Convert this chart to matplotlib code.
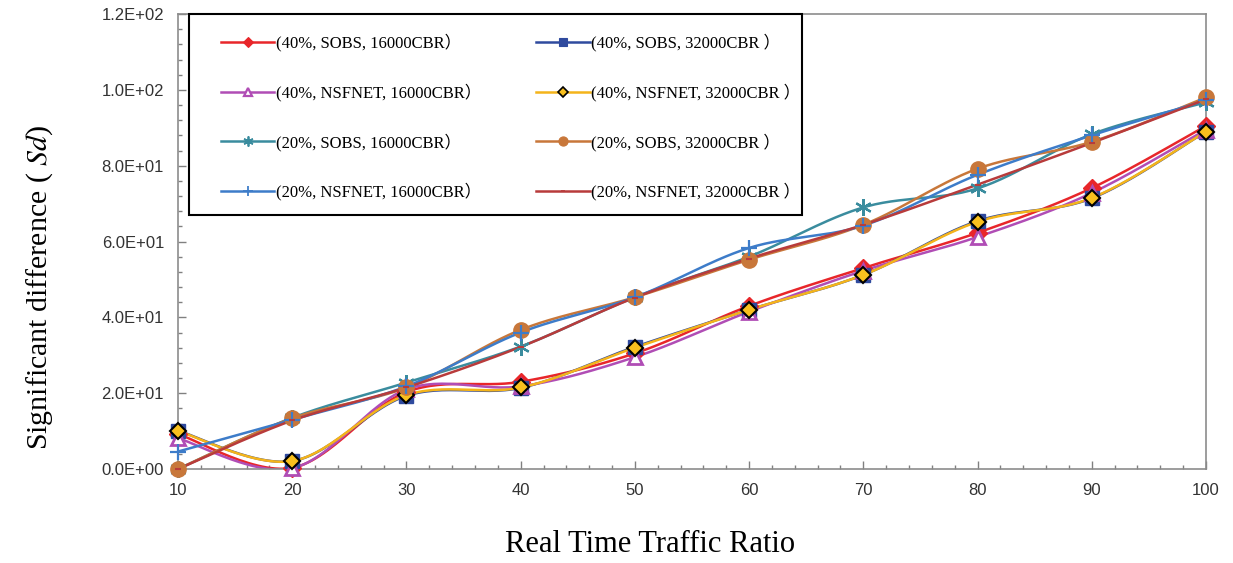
import numpy as np
import matplotlib
matplotlib.use('Agg')
import matplotlib.pyplot as plt
from matplotlib.lines import Line2D
from matplotlib.patches import Rectangle
from matplotlib.ticker import MultipleLocator, FuncFormatter
from matplotlib.font_manager import FontProperties

plt.rcParams['mathtext.fontset'] = 'stix'

# data
ratio = [10, 20, 30, 40, 50, 60, 70, 80, 90, 100]
sobs40_16k = [9.2, 0.3, 20.3, 23.0, 30.5, 43.0, 53.0, 62.3, 74.1, 90.5]
sobs40_32k = [10.1, 2.1, 19.3, 21.4, 32.2, 42.0, 51.2, 65.4, 71.4, 89.0]
nsf40_16k = [8.1, 0.2, 21.0, 21.8, 29.5, 41.5, 52.3, 61.2, 72.8, 89.5]
nsf40_32k = [10.0, 2.1, 19.5, 21.5, 32.0, 42.0, 51.2, 65.2, 71.5, 89.0]
sobs20_16k = [0.0, 13.5, 22.8, 32.3, 45.3, 56.0, 69.0, 74.0, 88.3, 96.7]
sobs20_32k = [0.0, 13.4, 21.5, 36.7, 45.3, 55.2, 64.4, 79.2, 86.3, 98.0]
nsf20_16k = [4.6, 13.0, 21.8, 36.0, 45.3, 58.3, 64.2, 77.6, 88.0, 97.2]
nsf20_32k = [0.0, 12.8, 21.5, 32.2, 45.2, 55.5, 64.4, 75.0, 86.0, 97.5]

labels = ['(40%, SOBS, 16000CBR）', '(40%, SOBS, 32000CBR ）',
          '(40%, NSFNET, 16000CBR）', '(40%, NSFNET, 32000CBR ）',
          '(20%, SOBS, 16000CBR）', '(20%, SOBS, 32000CBR ）',
          '(20%, NSFNET, 16000CBR）', '(20%, NSFNET, 32000CBR ）']


def smooth(x, y, n=30):
    # Excel-style smoothed line (Catmull-Rom through the points)
    p = np.column_stack([x, y]).astype(float)
    p = np.vstack([p[0], p, p[-1]])
    out = []
    t = np.linspace(0, 1, n)[:, None]
    for i in range(1, len(p) - 2):
        a, d = p[i], p[i + 1]
        b = a + (p[i + 1] - p[i - 1]) / 6
        c = d - (p[i + 2] - p[i]) / 6
        seg = (1 - t)**3 * a + 3 * (1 - t)**2 * t * b + 3 * (1 - t) * t**2 * c + t**3 * d
        out.append(seg)
    out = np.vstack(out)
    return out[:, 0], out[:, 1]


styles = [
    dict(color='#E8262A', marker='D', ms=9, mfc='#E8262A', mec='#E8262A', mew=1),
    dict(color='#2F4A9E', marker='s', ms=10, mfc='#2F4A9E', mec='#2F4A9E', mew=1),
    dict(color='#B04DB5', marker='^', ms=10, mfc='white', mec='#B04DB5', mew=2),
    dict(color='#F4B41A', marker='D', ms=8, mfc='#F9C01E', mec='black', mew=1.5),
    dict(color='#3A8C9E', marker=(6, 2, 0), ms=12, mfc='#3A8C9E', mec='#3A8C9E', mew=1.6),
    dict(color='#C8773A', marker='o', ms=11, mfc='#C8773A', mec='#C8773A', mew=1),
    dict(color='#3D7CC9', marker='+', ms=12, mfc='#3D7CC9', mec='#3D7CC9', mew=1.6),
    dict(color='#B83B3B', marker='_', ms=5, mfc='#B83B3B', mec='#B83B3B', mew=1.5),
]
series = [sobs40_16k, sobs40_32k, nsf40_16k, nsf40_32k,
          sobs20_16k, sobs20_32k, nsf20_16k, nsf20_32k]

fig = plt.figure(figsize=(12.33, 5.63), dpi=100)
ax = fig.add_axes([178 / 1233, 94 / 563, 1028 / 1233, 455 / 563])

handles = []
for vals, st in zip(series, styles):
    xs, ys = smooth(ratio, vals)
    ax.plot(xs, ys, color=st['color'], lw=1.8, zorder=2)
    ax.plot(ratio, vals, ls='none', marker=st['marker'], ms=st['ms'],
            mfc=st['mfc'], mec=st['mec'], mew=st['mew'], zorder=3, clip_on=False)
    handles.append(Line2D([], [], color=st['color'], lw=1.8, marker=st['marker'],
                          ms=st['ms'] * 0.6, mfc=st['mfc'], mec=st['mec'],
                          mew=st['mew'] * 0.8))

ax.set_xlim(10, 100)
ax.set_ylim(0, 120)
ax.xaxis.set_major_locator(MultipleLocator(10))
ax.xaxis.set_minor_locator(MultipleLocator(2))
ax.yaxis.set_major_locator(MultipleLocator(20))
ax.yaxis.set_minor_locator(MultipleLocator(4))
ax.yaxis.set_major_formatter(FuncFormatter(lambda v, _: f"{v:.1E}"))
ax.tick_params(which='both', direction='in', color='#808080', width=1)
ax.tick_params(which='major', length=6, labelsize=12, pad=10, labelcolor='#333333')
ax.tick_params(which='minor', length=3)
for lab in ax.get_xticklabels() + ax.get_yticklabels():
    lab.set_family('Liberation Sans')
for s in ax.spines.values():
    s.set_color('#8c8c8c')
    s.set_linewidth(1.2)

ax.set_xlabel('Real Time Traffic Ratio', family='Liberation Serif', fontsize=22)
ax.set_ylabel('Significant difference ( $\\it{Sd}$)', family='Liberation Serif', fontsize=21.5)
ax.xaxis.set_label_coords(0.459, -0.135)
ax.yaxis.set_label_coords(-0.12, 0.40)

# legend box drawn on its own so its edges sit where the reference has them
fig.add_artist(Rectangle((189 / 1233, 1 - 215 / 563), 613 / 1233, 201 / 563,
                         transform=fig.transFigure, facecolor='white',
                         edgecolor='black', lw=1.5, zorder=4))
order = [0, 2, 4, 6, 1, 3, 5, 7]
leg = fig.legend([handles[i] for i in order], [labels[i] for i in order],
                 loc='upper left', bbox_to_anchor=(221 / 1233, 1 - 34 / 563),
                 ncol=2, frameon=False,
                 prop=FontProperties(family=['Liberation Serif', 'Noto Sans CJK SC'], size=12),
                 handlelength=3.2, handletextpad=0.1, labelspacing=1.9,
                 columnspacing=3.3, borderpad=0, borderaxespad=0)
leg.set_zorder(5)

fig.savefig('out.png', dpi=100)
